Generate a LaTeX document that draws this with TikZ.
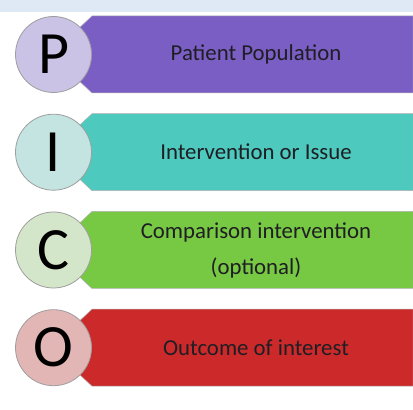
\documentclass[tikz,border=0pt]{standalone}
\usepackage{fontspec}
\setmainfont{Carlito}
\definecolor{bandc}{HTML}{DFE9F5}
\definecolor{pban}{HTML}{7B5EC4}
\definecolor{iban}{HTML}{4EC9BD}
\definecolor{cban}{HTML}{77C843}
\definecolor{oban}{HTML}{CC2A2A}
\definecolor{pcir}{HTML}{CBC3E5}
\definecolor{icir}{HTML}{C3E4E0}
\definecolor{ccir}{HTML}{D4E6C9}
\definecolor{ocir}{HTML}{E2B6B4}
\definecolor{txt}{HTML}{1E1E24}
\begin{document}
\begin{tikzpicture}[x=1pt,y=1pt,
  letter/.style={circle,draw=black!38,line width=0.8pt,minimum size=76pt,inner sep=0pt,
     font=\fontsize{60}{60}\selectfont,text=black},
  bantext/.style={font=\fontsize{22.8}{36}\selectfont,text=txt,align=center},
  banshape/.style={draw=black!30,line width=0.5pt}]
\useasboundingbox (0,0) rectangle (413,410);
\fill[white] (0,0) rectangle (413,410);
\fill[bandc] (0,398) rectangle (413,410);
% banners
\foreach \yc/\col in {355.5/pban,257.8/iban,160/cban,62.3/oban}{
  \path[banshape,fill=\col] (92,\yc+38.5) -- (413,\yc+38.5) -- (413,\yc-38.5) -- (92,\yc-38.5)
     -- (68,\yc-16) -- (68,\yc+16) -- cycle;
}
\node[letter,fill=pcir] (cP) at (53.5,355.5) {P};
\node[letter,fill=icir] (cI) at (53.5,257.8) {I};
\node[letter,fill=ccir] (cC) at (53.5,160) {C};
\node[letter,fill=ocir] (cO) at (53.5,62.3) {O};
\node[bantext] (tP) at (256,355.5) {Patient Population};
\node[bantext] (tI) at (256,257.8) {Intervention or Issue};
\node[bantext] (tC) at (256,160) {Comparison intervention\\(optional)};
\node[bantext] (tO) at (256,62.3) {Outcome of interest};
\end{tikzpicture}
\end{document}
